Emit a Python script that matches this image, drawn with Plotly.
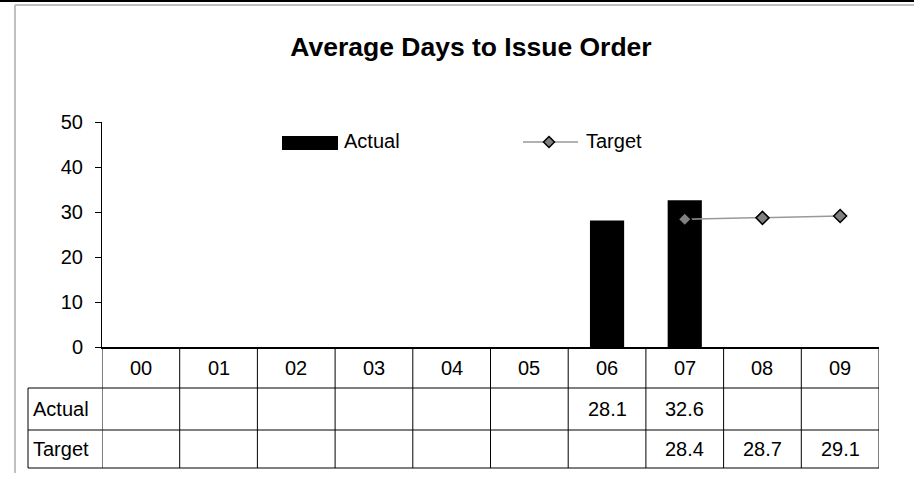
import plotly.graph_objects as go

# data
years = ["00", "01", "02", "03", "04", "05", "06", "07", "08", "09"]
actual = [None, None, None, None, None, None, 28.1, 32.6, None, None]
target = [None, None, None, None, None, None, None, 28.4, 28.7, 29.1]
row_names = ["Actual", "Target"]

W, H = 914, 477
L, R, T, B = 102, 879, 122, 347   # plot area in pixels
FONT = "Liberation Sans, Arial, sans-serif"


# pixel -> paper helpers
def px(x):
    return (x - L) / (R - L)


def py(y):
    return (B - y) / (B - T)


def label(text, x, y, xref="paper", xanchor="center", size=20):
    return dict(text=text, xref=xref, yref="paper", x=x, y=y, xanchor=xanchor,
                yanchor="middle", showarrow=False, font=dict(size=size, color="black"))


fig = go.Figure()
fig.add_trace(go.Bar(x=years, y=actual, name="Actual", marker_color="black",
                     marker_line_width=0, width=0.44, showlegend=False))
fig.add_trace(go.Scatter(x=years, y=target, name="Target", mode="lines+markers",
                         line=dict(color="#999999", width=1.5),
                         marker=dict(symbol="diamond", size=10, color="#808080",
                                     line=dict(color="black", width=1.5)),
                         showlegend=False))

shapes = []
ann = []

# outer frame
shapes.append(dict(type="line", xref="paper", yref="paper", x0=px(0), x1=px(W),
                   y0=py(1), y1=py(1), line=dict(color="black", width=2)))
shapes.append(dict(type="line", xref="paper", yref="paper", x0=px(15), x1=px(W),
                   y0=py(5), y1=py(5), line=dict(color="#c0c0c0", width=2)))
shapes.append(dict(type="line", xref="paper", yref="paper", x0=px(15), x1=px(15),
                   y0=py(5), y1=py(473), line=dict(color="#c0c0c0", width=2)))

# legend (drawn by hand to get the wide swatches)
shapes.append(dict(type="rect", xref="paper", yref="paper", x0=px(282), x1=px(338),
                   y0=py(136), y1=py(150), fillcolor="black", line_width=0))
ann.append(label("Actual", px(342), py(141), xanchor="left"))
shapes.append(dict(type="line", xref="paper", yref="paper", x0=px(523), x1=px(578),
                   y0=py(142), y1=py(142), line=dict(color="#999999", width=1.5)))
cx, cy, d = 549, 142, 5.5
shapes.append(dict(type="path", xref="paper", yref="paper",
                   path=f"M{px(cx)},{py(cy - d)} L{px(cx + d)},{py(cy)} L{px(cx)},{py(cy + d)} L{px(cx - d)},{py(cy)} Z",
                   fillcolor="#808080", line=dict(color="black", width=1.5)))
ann.append(label("Target", px(584), py(141), xanchor="left"))

# data table under the axis
rows_y = [347, 388, 430, 468]
for y in rows_y[1:]:
    shapes.append(dict(type="line", xref="paper", yref="paper", x0=px(28), x1=px(R),
                       y0=py(y), y1=py(y), line=dict(color="black", width=1)))
shapes.append(dict(type="line", xref="paper", yref="paper", x0=px(28), x1=px(28),
                   y0=py(388), y1=py(468), line=dict(color="black", width=1)))
for k in range(len(years) + 1):
    shapes.append(dict(type="line", xref="x", yref="paper", x0=k - 0.5, x1=k - 0.5,
                       y0=py(347), y1=py(468), line=dict(color="black", width=1)))

row_mid = [(rows_y[i] + rows_y[i + 1]) / 2 for i in range(3)]
for i, yr in enumerate(years):
    ann.append(label(yr, i, py(row_mid[0]), xref="x"))
for r, vals in enumerate([actual, target]):
    ann.append(label(row_names[r], px(31), py(row_mid[r + 1]), xanchor="left"))
    for i, v in enumerate(vals):
        if v is not None:
            ann.append(label(f"{v:.1f}", i, py(row_mid[r + 1]), xref="x"))

fig.update_layout(
    width=W, height=H,
    margin=dict(l=L, r=W - R, t=T, b=H - B, pad=0),
    paper_bgcolor="white", plot_bgcolor="white",
    font=dict(family=FONT, size=20, color="black"),
    title=dict(text="<b>Average Days to Issue Order</b>", x=px(471), xref="paper",
               xanchor="center", y=1 - 47 / H, yanchor="middle",
               font=dict(size=26.5, color="black")),
    showlegend=False,
    shapes=shapes,
    annotations=ann,
)
fig.update_xaxes(type="category", range=[-0.5, 9.5], showline=True, linecolor="black",
                 linewidth=1.5, showticklabels=False, ticks="", showgrid=False,
                 zeroline=False)
fig.update_yaxes(range=[0, 50], dtick=10, showline=True, linecolor="black",
                 linewidth=1, ticks="outside", ticklen=6, tickcolor="black",
                 ticklabelstandoff=8, showgrid=False, zeroline=False,
                 tickfont=dict(size=20))

fig.write_html("out.html", config={"displayModeBar": False},
               post_script="document.body.style.margin='0';")
